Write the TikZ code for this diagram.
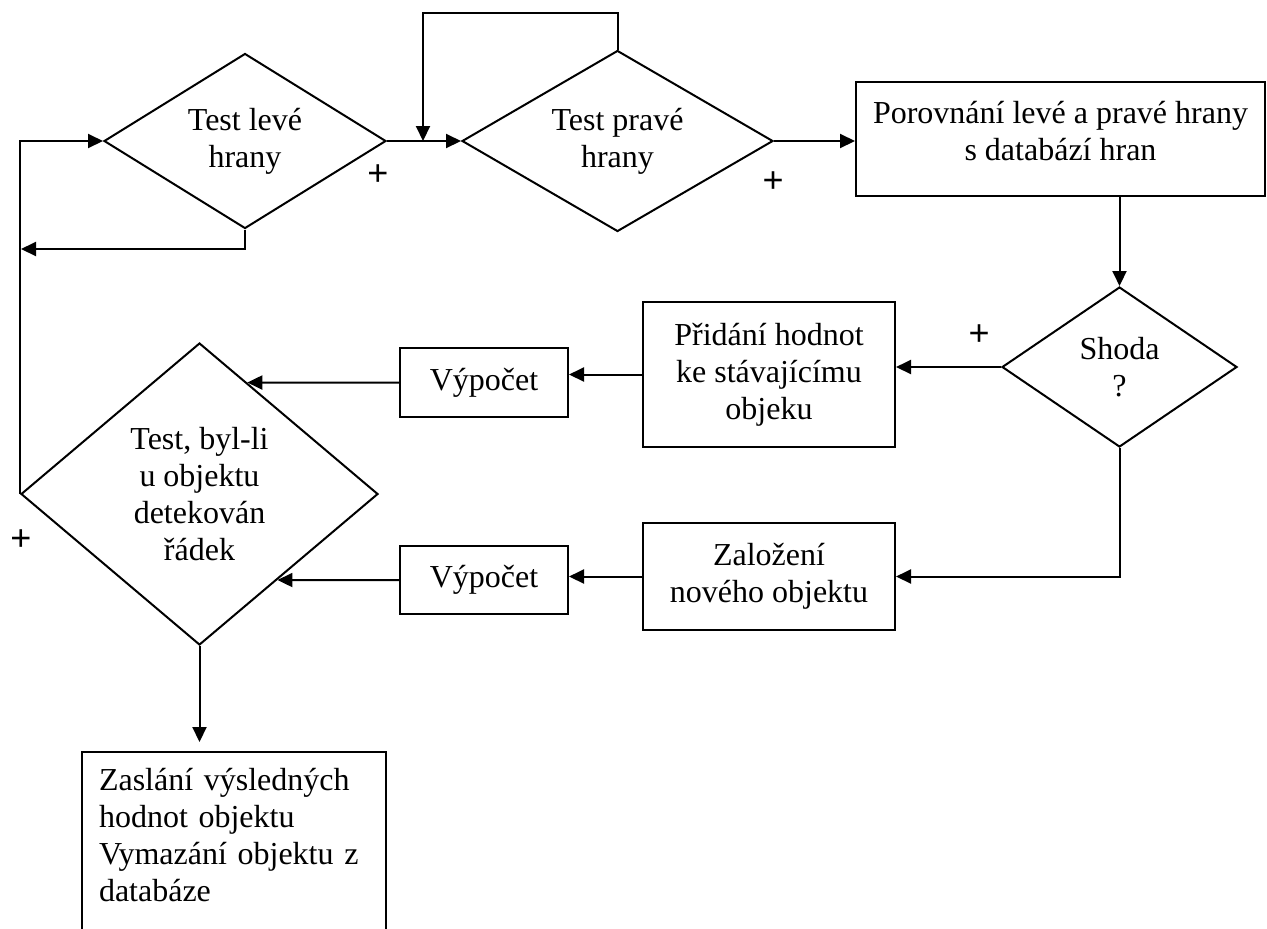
\documentclass[tikz,border=0pt]{standalone}
\usepackage{fontspec}
\setmainfont{Liberation Serif}
\newfontfamily\plusfont{Liberation Sans}
\usetikzlibrary{shapes.geometric,arrows.meta}
\begin{document}
\begin{tikzpicture}[
  x=0.5pt, y=-0.5pt,
  line width=1pt,
  font=\fontsize{16}{18.5}\selectfont,
  flow/.style={-{Triangle[length=7.5pt,width=7pt]}},
  box/.style={draw, rectangle, align=center, inner sep=2pt},
  test/.style={draw, diamond, align=center, inner sep=0pt},
  sign/.style={font=\plusfont\fontsize{18}{18}\selectfont, inner sep=0pt},
]
\useasboundingbox (0,0) rectangle (1267,928);

% decision and process blocks
\node[test, minimum width=141pt, minimum height=87.5pt, shape aspect=1.6] (tl) at (245,141) {Test levé\\hrany};
\node[test, minimum width=155.5pt, minimum height=90.5pt, shape aspect=1.7] (tr) at (617.5,141) {Test pravé\\hrany};
\node[box, minimum width=204.5pt, minimum height=57pt,
      label={[name=cmpText, align=center, yshift=4pt]center:Porovnání levé a pravé hrany\\s databází hran}] (cmp) at (1060.5,139) {};
\node[test, minimum width=117.5pt, minimum height=80pt, shape aspect=1.45] (match) at (1119.5,367) {Shoda\\?};
\node[box, minimum width=126pt, minimum height=72.5pt] (add) at (769,374.5) {Přidání hodnot\\ke stávajícímu\\objeku};
\node[box, minimum width=84pt, minimum height=34.5pt] (calcA) at (484,382.5) {Výpočet};
\node[box, minimum width=126pt, minimum height=53.5pt] (new) at (769,576.5) {Založení\\nového objektu};
\node[box, minimum width=84pt, minimum height=34pt] (calcB) at (484,580) {Výpočet};
\node[test, minimum width=178.5pt, minimum height=151pt, shape aspect=1.18] (row) at (199.5,494) {Test, byl-li\\u objektu\\detekován\\řádek};
\node[draw, anchor=north west, text width=135pt, inner xsep=8.5pt, inner ysep=0pt,
      text height=19pt, text depth=100pt, align=left] (out) at (81,751)
      {Zaslání výsledných\\hodnot objektu\\Vymazání objektu z\\databáze};

% branch labels
\node[sign] (p1) at (378,175) {+};
\node[sign] (p2) at (773,182) {+};
\node[sign] (p3) at (979,335) {+};
\node[sign] (p4) at (21,540) {+};

% junction points of the return lines
\coordinate (backIn) at (21,249);
\coordinate (loopTop) at (423,13);
\coordinate (loopIn) at (423,141);
\coordinate (hA) at (calcA.west -| row.west);
\coordinate (hB) at (calcB.west -| row.west);

% connectors
\draw[flow] (row.west) |- (tl.west);
\draw[flow] (tl.south) |- (backIn);
\draw[flow] (tl.east) -- (tr.west);
\draw[flow] (tr.north) |- (loopTop) -- (loopIn);
\draw[flow] (tr.east) -- (tr.east -| cmp.west);
\draw[flow] (match.north |- cmp.south) -- (match.north);
\draw[flow] (match.west) -- (match.west -| add.east);
\draw[flow] (add.west) -- (add.west -| calcA.east);
\draw[flow] (calcA.west) -- (intersection of calcA.west--hA and row.north--row.east);
\draw[flow] (new.west) -- (new.west -| calcB.east);
\draw[flow] (calcB.west) -- (intersection of calcB.west--hB and row.east--row.south);
\draw[flow] (match.south) |- (new.east);
\draw[flow, shorten >=4.5pt] (row.south) -- (out.north -| row.south);
\end{tikzpicture}
\end{document}
